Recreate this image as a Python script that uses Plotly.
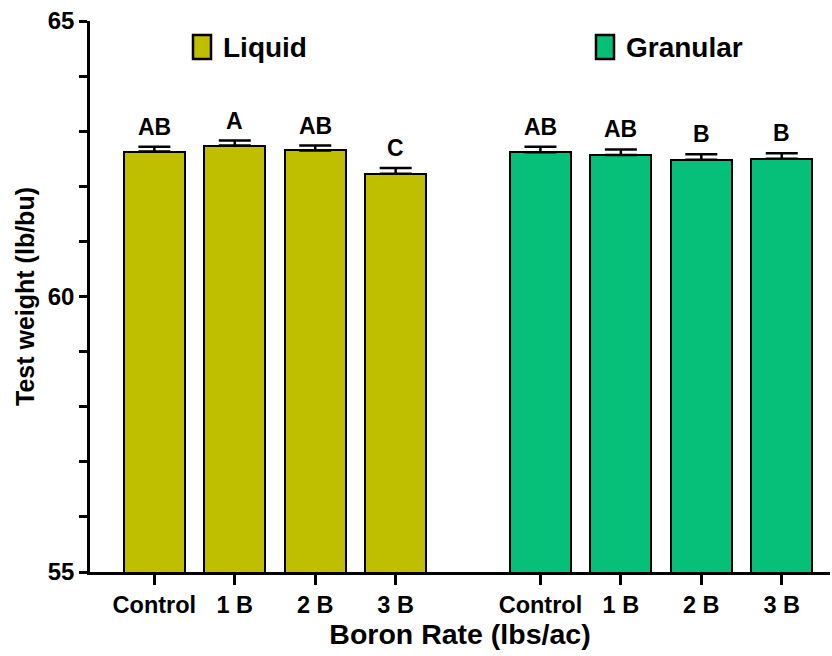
import plotly.graph_objects as go

rates = ["Control", "1 B", "2 B", "3 B"]
liquid_mean = [62.63, 62.74, 62.65, 62.23]
liquid_err = [0.09, 0.09, 0.09, 0.10]
liquid_letters = ["AB", "A", "AB", "C"]
granular_mean = [62.62, 62.57, 62.48, 62.50]
granular_err = [0.10, 0.10, 0.10, 0.10]
granular_letters = ["AB", "AB", "B", "B"]

LIQ_COLOR = "#BFBF00"
GRA_COLOR = "#06BF78"
FONT = "Arial, Liberation Sans, sans-serif"

gap = 1.8
liq_x = [i for i in range(len(rates))]
gra_x = [liq_x[-1] + gap + i for i in range(len(rates))]

fig = go.Figure()
for xs, ys, es, col, name in [
    (liq_x, liquid_mean, liquid_err, LIQ_COLOR, "Liquid"),
    (gra_x, granular_mean, granular_err, GRA_COLOR, "Granular"),
]:
    fig.add_trace(go.Bar(
        x=xs, y=ys, base=0, name=name, width=0.76,
        marker=dict(color=col, line=dict(color="black", width=2)),
        error_y=dict(type="data", array=es, arrayminus=[0] * len(es),
                     symmetric=False, color="black", thickness=2.5, width=16),
        showlegend=False,
    ))

for xs, ys, es, letters in [
    (liq_x, liquid_mean, liquid_err, liquid_letters),
    (gra_x, granular_mean, granular_err, granular_letters),
]:
    for x, y, e, t in zip(xs, ys, es, letters):
        fig.add_annotation(x=x, y=y + e, text=t, showarrow=False,
                           yanchor="bottom", yshift=5,
                           font=dict(family=FONT, size=23, color="black", weight="bold"))

# legend drawn manually (two separated entries)
for x0, x1, col, label, tx in [
    (193, 211, LIQ_COLOR, "Liquid", 221),
    (596, 614, GRA_COLOR, "Granular", 624),
]:
    px0 = (x0 - 90) / 740
    px1 = (x1 - 90) / 740
    fig.add_shape(type="rect", xref="paper", yref="paper",
                  x0=px0, x1=px1, y0=(572 - 59) / 551, y1=(572 - 35) / 551,
                  fillcolor=col, line=dict(color="black", width=2.5))
    fig.add_annotation(xref="paper", yref="paper", x=(tx - 90) / 740,
                       y=(572 - 47) / 551, text=label, showarrow=False,
                       xanchor="left", yanchor="middle",
                       font=dict(family=FONT, size=28, color="black", weight="bold"))

yt = list(range(55, 66))
fig.update_layout(
    width=832, height=656,
    margin=dict(l=90, r=2, t=21, b=84),
    paper_bgcolor="white", plot_bgcolor="white",
    font=dict(family=FONT, color="black"),
    bargap=0,
    xaxis=dict(
        range=[-0.8, 8.4], tickvals=liq_x + gra_x, ticktext=rates + rates,
        showline=True, linecolor="black", linewidth=2.5,
        ticks="outside", ticklen=10, tickwidth=2.5, tickcolor="black",
        showgrid=False, zeroline=False, automargin=False,
        tickfont=dict(family=FONT, size=23.5, color="black", weight="bold"),
        title=dict(text="Boron Rate (lbs/ac)", standoff=8,
                   font=dict(family=FONT, size=28.5, color="black", weight="bold")),
    ),
    yaxis=dict(
        range=[55, 65], tickvals=yt,
        ticktext=[str(v) if v % 5 == 0 else "" for v in yt],
        showline=True, linecolor="black", linewidth=2.5,
        ticks="outside", ticklen=8, tickwidth=2.5, tickcolor="black",
        showgrid=False, zeroline=False, automargin=False,
        tickfont=dict(family=FONT, size=24, color="black", weight="bold"),
        title=dict(text="Test weight (lb/bu)", standoff=6,
                   font=dict(family=FONT, size=25, color="black", weight="bold")),
    ),
)

fig.write_html("out.html", config={"displayModeBar": False},
               post_script="document.body.style.margin='0';document.body.style.overflow='hidden';")
